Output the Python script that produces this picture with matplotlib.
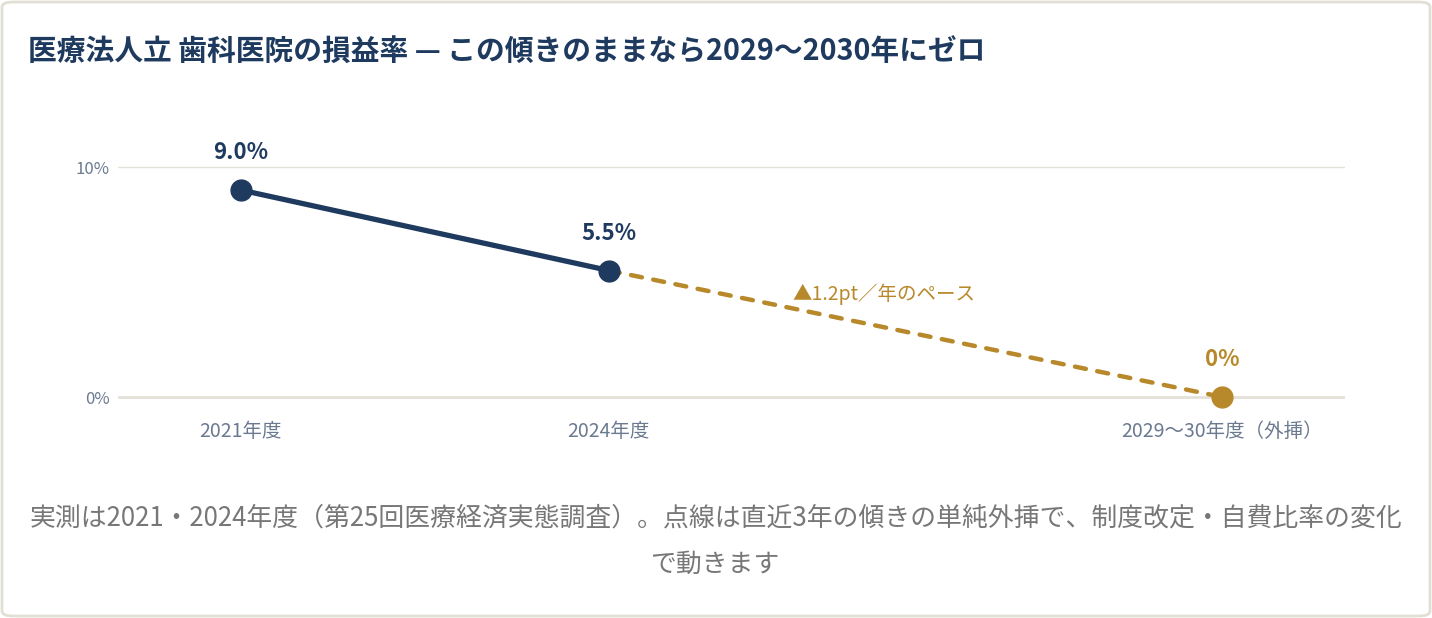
import matplotlib
matplotlib.use("Agg")
import matplotlib.pyplot as plt
from matplotlib.patches import FancyBboxPatch

plt.rcParams['font.family'] = ['Noto Sans CJK JP', 'DejaVu Sans']

# ---- data ----
actual_years = [2021, 2024]
actual_values = [9.0, 5.5]
proj_years = [2024, 2029]
proj_values = [5.5, 0.0]
tick_positions = [2021, 2024, 2029]
tick_labels = ["2021年度", "2024年度", "2029～30年度（外挿）"]
y_ticks = [0, 10]
y_tick_labels = ["0%", "10%"]
actual_labels = ["9.0%", "5.5%"]
proj_end_label = "0%"
pace_label = "▲1.2pt／年のペース"

title = "医療法人立 歯科医院の損益率 — この傾きのままなら2029～2030年にゼロ"
footer1 = "実測は2021・2024年度（第25回医療経済実態調査）。点線は直近3年の傾きの単純外挿で、制度改定・自費比率の変化"
footer2 = "で動きます"

NAVY = "#1f3a5f"
GOLD = "#b8892b"
TICK = "#6b7a90"
GRID = "#e4e1d8"
FOOT = "#777777"

W, H = 1432, 618
fig = plt.figure(figsize=(W / 100, H / 100), dpi=100)
fig.patch.set_facecolor("white")

card = FancyBboxPatch((2 / W, 2 / H), (W - 4) / W, (H - 4) / H,
                      boxstyle="round,pad=0,rounding_size=0.008",
                      transform=fig.transFigure, facecolor="none",
                      edgecolor="#e2dfd4", linewidth=2, zorder=-5)
fig.patches.append(card)

# axes: x 118..1345 px, y data -1..12 -> pixel 420..121
ymin, ymax = -1, 12
px_per = 23.0
top_px = 397 - ymax * px_per
bot_px = 397 - ymin * px_per
ax = fig.add_axes([118 / W, 1 - bot_px / H, (1345 - 118) / W, (bot_px - top_px) / H])
ax.set_xlim(2020, 2030)
ax.set_ylim(ymin, ymax)
ax.patch.set_alpha(0)
for s in ax.spines.values():
    s.set_visible(False)

for yv in y_ticks:
    ax.axhline(yv, color=GRID, lw=2.0 if yv == 0 else 1.0, zorder=1)

ax.set_yticks(y_ticks)
ax.set_yticklabels(y_tick_labels, color=TICK, fontsize=12)
ax.set_xticks(tick_positions)
ax.set_xticklabels(tick_labels, color=TICK, fontsize=14)
ax.tick_params(axis='both', length=0)
ax.tick_params(axis='y', pad=6)
ax.tick_params(axis='x', pad=1)

ax.plot(proj_years, proj_values, color=GOLD, lw=3.2, ls=(0, (2.5, 2.6)),
        solid_capstyle='round', dash_capstyle='round', zorder=2)
ax.plot(actual_years, actual_values, color=NAVY, lw=3.8, zorder=3,
        solid_capstyle='round')
ax.plot(actual_years, actual_values, 'o', color=NAVY, ms=15, zorder=4)
ax.plot([proj_years[-1]], [proj_values[-1]], 'o', color=GOLD, ms=15, zorder=4)

for x, y, t in zip(actual_years, actual_values, actual_labels):
    ax.annotate(t, (x, y), xytext=(0, 27), textcoords='offset points',
                ha='center', va='center', fontsize=16, fontweight='bold', color=NAVY)
ax.annotate(proj_end_label, (proj_years[-1], proj_values[-1]), xytext=(0, 27),
            textcoords='offset points', ha='center', va='center',
            fontsize=16, fontweight='bold', color=GOLD)

mid_x = 2025.5
mid_y = proj_values[0] + (proj_values[1] - proj_values[0]) * (mid_x - proj_years[0]) / (proj_years[1] - proj_years[0])
ax.annotate(pace_label, (mid_x, mid_y), xytext=(0, 10), textcoords='offset points',
            ha='left', va='center', fontsize=14, color=GOLD)

fig.text(28 / W, 1 - 52 / H, title, ha='left', va='center', fontsize=20.7,
         fontweight='bold', color=NAVY)
fig.text(716 / W, 1 - 518 / H, footer1, ha='center', va='center', fontsize=18.6, color=FOOT)
fig.text(716 / W, 1 - 564 / H, footer2, ha='center', va='center', fontsize=18.6, color=FOOT)

fig.savefig("out.png", dpi=100)
